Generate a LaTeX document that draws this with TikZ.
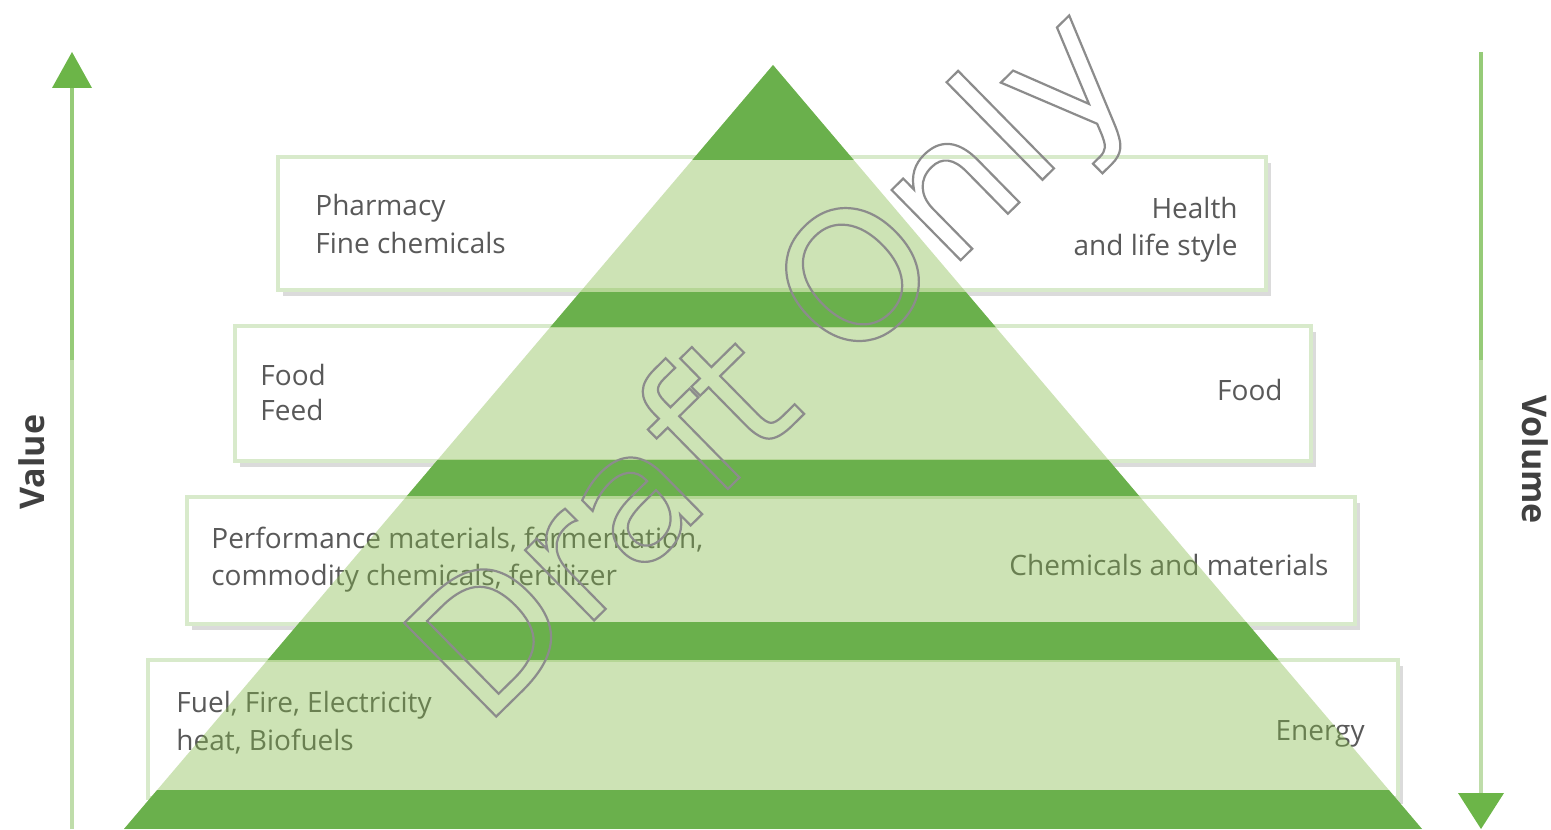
\documentclass[tikz,border=0pt]{standalone}
\usepackage{fontspec}
\setmainfont{Open Sans}
\newfontfamily\wmfont{DejaVu Sans}
\usetikzlibrary{fit,shadows}
\definecolor{txt}{HTML}{595959}
\definecolor{lbl}{HTML}{404040}
\definecolor{boxline}{HTML}{D8EACB}
\definecolor{lightg}{RGB}{130,185,70}
\definecolor{darkg}{HTML}{6AB04C}
\definecolor{arrlow}{HTML}{BFDDAA}
\definecolor{arrup}{HTML}{96CB78}
\definecolor{arrhead}{HTML}{6CB548}
\newcommand{\myoutline}[1]{\special{pdf:literal direct 1 Tr 1.1 w 0.55 0.55 0.55 RG}#1\special{pdf:literal direct 0 Tr}}
\begin{document}
\begin{tikzpicture}[x=0.5pt,y=-0.5pt,
  box/.style={draw=boxline, line width=2pt, fill=white, inner sep=0pt,
    drop shadow={shadow xshift=2.5pt, shadow yshift=-3pt, fill=black, opacity=0.14}},
  lt/.style={anchor=base west, font=\fontsize{14}{17}\selectfont, text=txt, inner sep=0pt},
  rt/.style={anchor=base east, font=\fontsize{14}{17}\selectfont, text=txt, inner sep=0pt},
  side/.style={font=\bfseries\fontsize{17}{20}\selectfont, text=lbl, inner sep=0pt, anchor=base west},
  arrline/.style={line width=2pt},
]
\useasboundingbox (0,0) rectangle (1551,829);

% boxes
\node[box, fit={(278,157) (1266,290)}] (b1) {};
\node[box, fit={(235,326) (1311,461)}] (b2) {};
\node[box, fit={(187,497) (1355,624)}] (b3) {};
\node[box, fit={(148,660) (1398,798)}] (b4) {};

% texts
\node[lt] (t1a) at (315,215) {Pharmacy};
\node[lt] (t1b) at (315,253) {Fine chemicals};
\node[rt] (t1c) at (1238,218) {Health};
\node[rt] (t1d) at (1238,255) {and life style};
\node[lt] (t2a) at (260,385) {Food};
\node[lt] (t2b) at (260,420) {Feed};
\node[rt] (t2c) at (1283,400) {Food};
\node[lt] (t3a) at (211,548) {Performance materials, fermentation,};
\node[lt] (t3b) at (211,585) {commodity chemicals, fertilizer};
\node[rt] (t3c) at (1329,575) {Chemicals and materials};
\node[lt] (t4a) at (176,712) {Fuel, Fire, Electricity};
\node[lt] (t4b) at (176,750) {heat, Biofuels};
\node[rt] (t4c) at (1365,740) {Energy};

% pyramid
\coordinate (apex) at (773,65);
\coordinate (bl) at (124,829);
\coordinate (br) at (1422,829);
\fill[lightg, fill opacity=0.4] (apex) -- (bl) -- (br) -- cycle;
\begin{scope}
  \clip (apex) -- (bl) -- (br) -- cycle;
  \fill[darkg] (0,60) rectangle (1551,160);
  \fill[darkg] (0,292) rectangle (1551,327);
  \fill[darkg] (0,460) rectangle (1551,496);
  \fill[darkg] (0,622) rectangle (1551,660);
  \fill[darkg] (0,790) rectangle (1551,829);
\end{scope}

% arrows
\coordinate (la0) at (72,829);
\coordinate (la1) at (72,360);
\coordinate (la2) at (72,86);
\coordinate (lh1) at (52,88);
\coordinate (lh2) at (92,88);
\coordinate (lt0) at (72,52);
\draw[arrline, arrlow] (la0) -- (la1);
\draw[arrline, arrup] (la1) -- (la2);
\fill[arrhead] (lh1) -- (lh2) -- (lt0) -- cycle;

\coordinate (ra0) at (1481,52);
\coordinate (ra1) at (1481,360);
\coordinate (ra2) at (1481,795);
\coordinate (rh1) at (1458,793);
\coordinate (rh2) at (1504,793);
\coordinate (rt0) at (1481,829);
\draw[arrline, arrup] (ra0) -- (ra1);
\draw[arrline, arrlow] (ra1) -- (ra2);
\fill[arrhead] (rh1) -- (rh2) -- (rt0) -- cycle;

% side labels
\node[side, rotate=90] (value) at (44,510) {Value};
\node[side, rotate=-90] (volume) at (1522,395) {Volume};

% watermark
\node[font=\wmfont\fontsize{90}{90}\selectfont, rotate=44.5, inner sep=0pt] (wm) at (778,370)
  {\myoutline{Draft Only}};
\end{tikzpicture}
\end{document}
